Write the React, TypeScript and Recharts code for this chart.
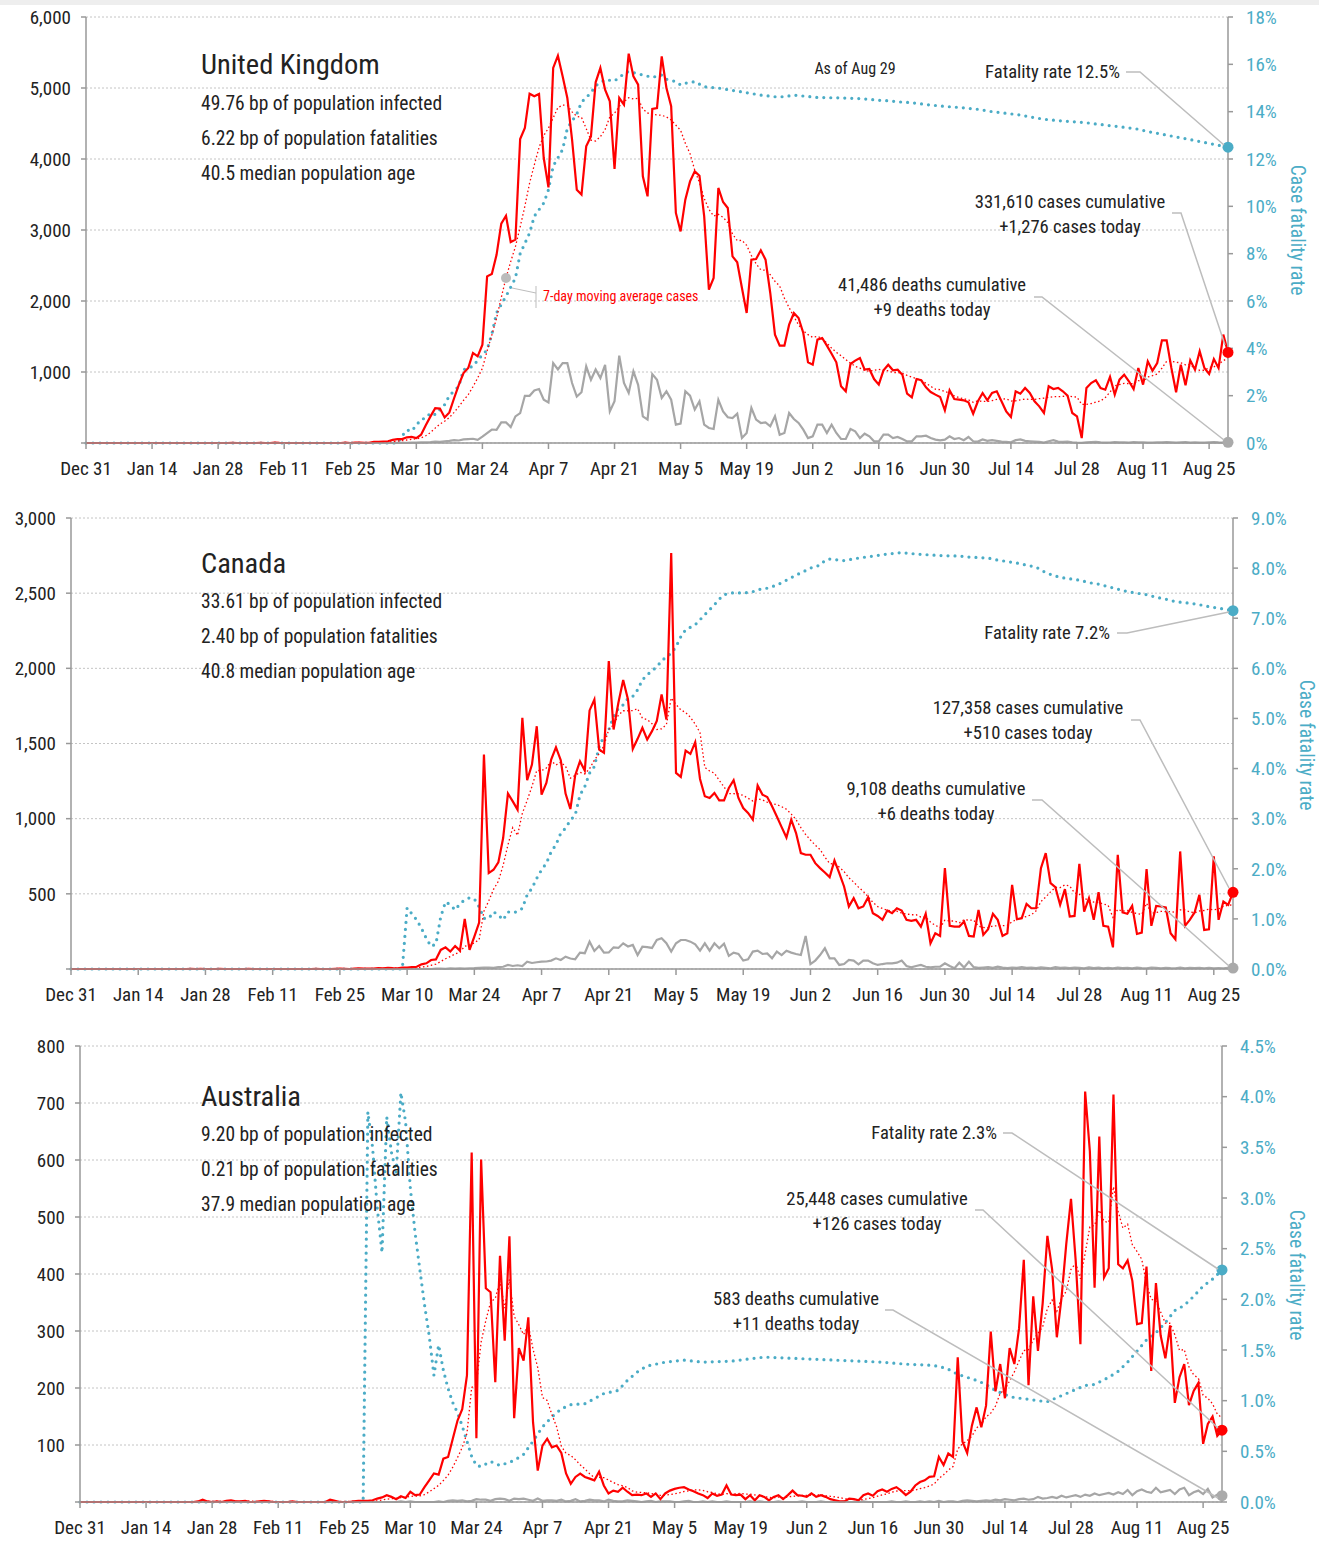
import React from "react";
import {
  ComposedChart,
  Line,
  XAxis,
  YAxis,
  CartesianGrid,
  ReferenceDot,
} from "recharts";

const FONT =
  '"Liberation Sans Narrow", "Arial Narrow", "Roboto Condensed", "DejaVu Sans Condensed", sans-serif';
const RED = "#ff0000";
const GRAY = "#a6a6a6";
const TEAL = "#4bacc6";
const W = 1319;

// x axis: day 0 = Dec 31, day 242 = Aug 29
const TICK_DAYS = [0, 14, 28, 42, 56, 70, 84, 98, 112, 126, 140, 154, 168, 182, 196, 210, 224, 238];
const TICK_LABELS = [
  "Dec 31", "Jan 14", "Jan 28", "Feb 11", "Feb 25", "Mar 10", "Mar 24", "Apr 7", "Apr 21",
  "May 5", "May 19", "Jun 2", "Jun 16", "Jun 30", "Jul 14", "Jul 28", "Aug 11", "Aug 25",
];

// ---------- United Kingdom ----------
const UK_CASES = [
  0, 0, 0, 0, 0, 0, 0, 0, 0, 0,
  0, 0, 0, 0, 0, 0, 0, 0, 0, 0,
  0, 0, 0, 0, 0, 0, 0, 0, 0, 0,
  0, 2, 0, 0, 0, 0, 0, 1, 0, 0,
  4, 1, 0, 0, 0, 0, 0, 0, 0, 0,
  0, 0, 0, 0, 0, 4, 0, 7, 5, 3,
  3, 15, 15, 20, 25, 45, 55, 55, 80, 85,
  70, 117, 250, 375, 490, 485, 360, 430, 630, 820,
  985, 1056, 1268, 1220, 1385, 2347, 2380, 2650, 3090, 3200,
  2830, 2864, 4280, 4437, 4920, 4883, 4915, 4014, 3600, 5282,
  5455, 5164, 4859, 4272, 3568, 3500, 4178, 4319, 5080, 5282,
  4977, 4812, 3859, 4859, 4765, 5484, 5164, 5047, 3756, 3474,
  4704, 4718, 5446, 5000, 4745, 3240, 2980, 3427, 3685, 3826,
  3765, 3192, 2160, 2324, 3592, 3394, 3310, 2629, 2545, 2183,
  1831, 2582, 2592, 2714, 2582, 2113, 1526, 1371, 1371, 1667,
  1831, 1760, 1549, 1136, 1103, 1455, 1479, 1371, 1258, 1136,
  798, 728, 1113, 1160, 1197, 1033, 1042, 901, 822, 1024,
  1103, 1024, 1033, 962, 695, 643, 901, 883, 784, 718,
  681, 648, 460, 742, 620, 610, 601, 573, 413, 587,
  704, 601, 704, 728, 587, 446, 366, 728, 695, 775,
  704, 587, 516, 423, 798, 760, 775, 728, 667, 423,
  376, 70, 775, 845, 883, 775, 751, 930, 681, 892,
  962, 869, 760, 1056, 822, 1150, 1019, 1127, 1446, 1446,
  1056, 714, 1103, 812, 1164, 1033, 1291, 1056, 972, 1183,
  1056, 1526, 1276,
];
const UK_DEATHS = [
  0, 0, 0, 0, 0, 0, 0, 0, 0, 0,
  0, 0, 0, 0, 0, 0, 0, 0, 0, 0,
  0, 0, 0, 0, 0, 0, 0, 0, 0, 0,
  0, 0, 0, 0, 0, 0, 0, 0, 0, 0,
  0, 0, 0, 0, 0, 0, 0, 0, 0, 0,
  0, 0, 0, 0, 0, 0, 0, 0, 0, 0,
  0, 0, 0, 0, 0, 1, 1, 2, 3, 5,
  5, 8, 10, 14, 20, 16, 25, 30, 40, 35,
  50, 55, 60, 45, 90, 140, 190, 185, 290, 290,
  225, 375, 420, 665, 665, 740, 760, 610, 570, 1125,
  1035, 1125, 1125, 845, 655, 715, 1080, 890, 1035, 915,
  1100, 445, 590, 1230, 845, 705, 1010, 820, 375, 330,
  970, 890, 634, 728, 610, 258, 272, 728, 667, 470,
  587, 258, 211, 197, 610, 446, 362, 352, 413, 70,
  141, 493, 329, 282, 291, 235, 376, 117, 141, 423,
  338, 282, 188, 70, 94, 258, 258, 141, 258, 141,
  56, 56, 197, 164, 70, 131, 94, 23, 23, 117,
  117, 70, 85, 56, 23, 23, 94, 94, 103, 70,
  47, 38, 47, 94, 56, 70, 40, 85, 25, 20,
  50, 30, 40, 30, 20, 15, 10, 40, 50, 30,
  25, 20, 15, 5, 25, 40, 20, 15, 20, 10,
  5, 3, 10, 12, 15, 8, 5, 7, 12, 10,
  8, 5, 12, 10, 8, 5, 6, 10, 8, 12,
  10, 5, 8, 12, 6, 8, 5, 6, 10, 12,
  8, 6, 9,
];
const UK_CFR_DAYS = [
  0, 66, 67, 68, 69, 71, 72, 73, 74, 76, 77, 79, 80, 82, 83, 85, 86, 87, 89, 91,
  92, 94, 95, 97, 98, 99, 101, 102, 104, 105, 107, 108, 110, 112, 114, 115, 117, 120, 122, 123,
  125, 126, 127, 129, 131, 134, 137, 140, 143, 146, 148, 150, 155, 160, 164, 166, 168, 170, 173, 175,
  178, 182, 185, 189, 192, 195, 198, 200, 203, 206, 209, 212, 214, 217, 220, 223, 225, 228, 231, 234,
  237, 240, 242,
];
const UK_CFR = [
  0, 0, 0.3, 0.55, 0.5, 1.0, 1.05, 1.27, 1.2, 1.62, 2.0, 2.4, 3.1, 3.24, 3.5, 3.94, 4.6, 5.5, 6.2, 6.97,
  8.0, 8.87, 9.58, 10.14, 10.7, 11.7, 12.4, 13.3, 13.9, 14.4, 14.8, 15.1, 15.35, 15.3, 15.6, 15.7, 15.6, 15.45, 15.55, 15.37,
  15.27, 15.13, 15.2, 15.27, 15.05, 15.0, 14.9, 14.8, 14.7, 14.63, 14.63, 14.7, 14.6, 14.58, 14.55, 14.52, 14.48, 14.46, 14.4, 14.38,
  14.3, 14.22, 14.18, 14.1, 14.0, 13.93, 13.86, 13.78, 13.68, 13.62, 13.58, 13.53, 13.48, 13.41, 13.34, 13.26, 13.16, 13.05, 12.93, 12.82,
  12.7, 12.58, 12.5,
];

// ---------- Canada ----------
const CA_CASES = [
  0, 0, 0, 0, 0, 0, 0, 0, 0, 0,
  0, 0, 0, 0, 0, 0, 0, 0, 0, 0,
  0, 0, 0, 0, 0, 1, 0, 1, 0, 0,
  0, 1, 0, 0, 0, 0, 0, 1, 0, 0,
  0, 0, 0, 0, 0, 0, 0, 0, 0, 0,
  0, 1, 0, 0, 0, 1, 2, 1, 0, 3,
  4, 2, 3, 3, 6, 5, 8, 6, 5, 9,
  9, 12, 15, 31, 38, 60, 64, 127, 144, 116,
  153, 122, 333, 127, 216, 309, 1427, 638, 660, 709,
  871, 1167, 1115, 1060, 1671, 1256, 1360, 1615, 1160, 1238,
  1393, 1475, 1389, 1167, 1064, 1287, 1382, 1320, 1720, 1793,
  1460, 1438, 2049, 1593, 1771, 1922, 1793, 1464, 1531, 1604,
  1527, 1582, 1650, 1827, 1660, 2767, 1304, 1278, 1453, 1431,
  1509, 1264, 1149, 1138, 1171, 1122, 1122, 1204, 1256, 1138,
  1071, 1038, 993, 1220, 1160, 1144, 1082, 1015, 944, 875,
  993, 904, 771, 760, 760, 704, 671, 642, 611, 722,
  638, 549, 416, 471, 404, 416, 476, 371, 353, 327,
  389, 371, 404, 389, 327, 320, 327, 282, 367, 171,
  238, 220, 671, 287, 282, 282, 316, 220, 216, 393,
  227, 264, 367, 327, 220, 238, 560, 331, 338, 433,
  404, 404, 671, 771, 571, 544, 427, 531, 349, 353,
  700, 382, 471, 327, 511, 287, 282, 144, 760, 376,
  367, 420, 233, 242, 664, 287, 420, 416, 409, 238,
  198, 782, 287, 327, 376, 493, 260, 264, 749, 327,
  449, 427, 510,
];
const CA_DEATHS = [
  0, 0, 0, 0, 0, 0, 0, 0, 0, 0,
  0, 0, 0, 0, 0, 0, 0, 0, 0, 0,
  0, 0, 0, 0, 0, 0, 0, 0, 0, 0,
  0, 0, 0, 0, 0, 0, 0, 0, 0, 0,
  0, 0, 0, 0, 0, 0, 0, 0, 0, 0,
  0, 0, 0, 0, 0, 0, 0, 0, 0, 0,
  0, 0, 0, 0, 0, 0, 0, 0, 0, 1,
  0, 0, 0, 0, 1, 0, 2, 3, 1, 4,
  2, 4, 3, 5, 6, 8, 9, 10, 8, 12,
  15, 27, 20, 25, 20, 49, 40, 45, 49, 50,
  56, 71, 60, 82, 70, 65, 109, 105, 182, 120,
  153, 109, 110, 144, 140, 171, 150, 160, 93, 149,
  145, 140, 193, 204, 171, 116, 171, 193, 193, 182,
  164, 122, 171, 122, 171, 138, 169, 87, 109, 100,
  56, 64, 116, 122, 100, 104, 71, 116, 93, 122,
  109, 100, 93, 220, 33, 56, 93, 138, 71, 71,
  27, 33, 60, 56, 31, 56, 56, 38, 27, 33,
  38, 38, 42, 56, 20, 11, 20, 27, 15, 11,
  15, 15, 38, 20, 5, 42, 10, 49, 12, 8,
  10, 12, 8, 15, 9, 6, 10, 8, 12, 7,
  9, 6, 11, 8, 5, 12, 7, 9, 6, 10,
  8, 5, 11, 6, 9, 4, 7, 5, 10, 6,
  8, 4, 9, 6, 5, 10, 7, 4, 8, 6,
  5, 9, 4, 7, 6, 8, 5, 7, 4, 6,
  5, 7, 6,
];
const CA_CFR_DAYS = [
  0, 69, 70, 71, 72, 73, 74, 75, 76, 77, 78, 79, 80, 81, 82, 83, 84, 85, 86, 87,
  88, 89, 90, 91, 92, 93, 94, 95, 96, 97, 98, 99, 100, 101, 102, 103, 104, 105, 106, 107,
  108, 109, 110, 111, 112, 113, 114, 115, 116, 117, 118, 119, 120, 121, 122, 123, 124, 125, 126, 127,
  128, 130, 131, 132, 133, 134, 135, 136, 137, 138, 140, 142, 143, 145, 147, 149, 151, 153, 154, 156,
  157, 158, 161, 164, 167, 170, 172, 173, 176, 181, 185, 187, 191, 193, 195, 197, 199, 201, 203, 205,
  207, 210, 212, 214, 216, 218, 220, 222, 224, 226, 228, 230, 233, 235, 237, 239, 242,
];
const CA_CFR = [
  0, 0, 1.22, 1.1, 0.98, 0.81, 0.61, 0.45, 0.5, 1.04, 1.34, 1.28, 1.18, 1.3, 1.38, 1.42, 1.4, 1.24, 1.01, 1.01,
  1.14, 1.08, 0.98, 1.14, 1.12, 1.15, 1.21, 1.48, 1.61, 1.81, 1.98, 2.11, 2.34, 2.48, 2.71, 2.81, 2.97, 3.07, 3.47, 3.64,
  3.91, 4.04, 4.44, 4.64, 4.77, 5.04, 5.2, 5.27, 5.4, 5.44, 5.57, 5.77, 5.87, 5.95, 6.03, 6.15, 6.23, 6.3, 6.43, 6.63,
  6.77, 6.87, 6.97, 7.07, 7.17, 7.27, 7.38, 7.47, 7.49, 7.51, 7.5, 7.53, 7.57, 7.6, 7.66, 7.76, 7.86, 7.95, 8.0, 8.06,
  8.15, 8.18, 8.15, 8.2, 8.24, 8.28, 8.3, 8.31, 8.28, 8.25, 8.24, 8.22, 8.2, 8.16, 8.13, 8.1, 8.06, 8.02, 7.91, 7.84,
  7.8, 7.76, 7.71, 7.68, 7.63, 7.58, 7.53, 7.5, 7.47, 7.42, 7.38, 7.33, 7.3, 7.27, 7.23, 7.2, 7.15,
];

// ---------- Australia ----------
const AU_CASES = [
  0, 0, 0, 0, 0, 0, 0, 0, 0, 0,
  0, 0, 0, 0, 0, 0, 0, 0, 0, 0,
  0, 0, 0, 0, 0, 1, 4, 1, 0, 1,
  0, 2, 3, 1, 1, 2, 0, 0, 1, 2,
  1, 0, 0, 0, 0, 1, 0, 0, 0, 0,
  0, 0, 0, 4, 2, 0, 0, 0, 1, 2,
  2, 2, 3, 6, 8, 12, 9, 5, 10, 7,
  18, 12, 13, 26, 38, 50, 48, 76, 79, 111,
  143, 163, 222, 613, 112, 601, 375, 368, 210, 432,
  283, 466, 147, 270, 248, 324, 140, 55, 99, 111,
  96, 99, 86, 50, 32, 44, 50, 44, 41, 38,
  53, 29, 15, 20, 18, 25, 18, 12, 13, 12,
  15, 9, 15, 5, 15, 20, 23, 25, 26, 22,
  19, 15, 12, 7, 15, 11, 13, 29, 13, 12,
  13, 5, 12, 3, 12, 9, 3, 9, 12, 5,
  12, 20, 12, 11, 9, 15, 9, 12, 9, 5,
  3, 1, 1, 6, 5, 3, 12, 15, 11, 19,
  22, 18, 23, 26, 20, 12, 18, 29, 35, 38,
  44, 45, 79, 65, 85, 79, 254, 106, 86, 134,
  166, 131, 169, 299, 194, 242, 182, 270, 242, 305,
  425, 205, 361, 265, 349, 467, 408, 289, 359, 453,
  532, 423, 277, 720, 615, 376, 641, 394, 410, 715,
  417, 410, 424, 388, 312, 314, 413, 230, 384, 292,
  252, 310, 174, 219, 242, 170, 195, 209, 102, 137,
  150, 116, 126,
];
const AU_DEATHS = [
  0, 0, 0, 0, 0, 0, 0, 0, 0, 0,
  0, 0, 0, 0, 0, 0, 0, 0, 0, 0,
  0, 0, 0, 0, 0, 0, 0, 0, 0, 0,
  0, 0, 0, 0, 0, 0, 0, 0, 0, 0,
  0, 0, 0, 0, 0, 0, 0, 0, 0, 0,
  0, 0, 0, 0, 0, 0, 0, 0, 0, 0,
  0, 1, 0, 0, 0, 0, 0, 0, 1, 0,
  1, 0, 0, 0, 0, 0, 1, 0, 2, 3,
  2, 3, 1, 2, 5, 4, 4, 2, 5, 6,
  5, 2, 6, 5, 6, 4, 2, 6, 2, 3,
  3, 2, 4, 1, 2, 5, 1, 2, 4, 3,
  3, 1, 4, 2, 1, 1, 3, 2, 1, 0,
  1, 2, 0, 1, 1, 1, 0, 0, 1, 2,
  0, 0, 1, 0, 1, 0, 0, 1, 0, 0,
  0, 0, 1, 0, 1, 0, 0, 0, 1, 0,
  0, 0, 0, 1, 0, 0, 0, 1, 0, 0,
  0, 0, 1, 0, 0, 0, 1, 0, 0, 0,
  0, 0, 1, 0, 0, 1, 0, 0, 1, 0,
  1, 0, 2, 0, 1, 1, 0, 2, 3, 2,
  1, 2, 3, 2, 4, 3, 5, 4, 3, 5,
  6, 4, 5, 9, 6, 7, 9, 7, 11, 8,
  10, 12, 9, 13, 11, 15, 12, 14, 16, 13,
  17, 14, 21, 12, 19, 22, 18, 16, 25, 17,
  19, 21, 14, 22, 25, 12, 17, 20, 14, 23,
  8, 13, 11,
];
const AU_CFR_DAYS = [
  0, 60, 61, 62, 63, 64, 65, 66, 67, 68, 69, 70, 71, 72, 73, 74, 75, 76, 77, 78,
  79, 80, 81, 82, 83, 84, 85, 87, 89, 92, 94, 96, 98, 100, 102, 104, 107, 109, 111, 114,
  116, 118, 120, 122, 124, 126, 128, 132, 138, 145, 150, 155, 160, 165, 170, 175, 180, 182, 184, 186,
  188, 190, 192, 194, 196, 198, 200, 203, 205, 207, 209, 211, 213, 215, 218, 220, 222, 224, 226, 228,
  230, 232, 234, 236, 238, 240, 242,
];
const AU_CFR = [
  0, 0, 3.85, 3.5, 2.9, 2.46, 3.8, 3.45, 3.25, 4.04, 3.75, 3.1, 2.66, 2.3, 1.95, 1.64, 1.25, 1.55, 1.3, 1.12,
  0.98, 0.88, 0.75, 0.6, 0.45, 0.36, 0.35, 0.4, 0.36, 0.41, 0.47, 0.6, 0.74, 0.84, 0.92, 0.96, 0.97, 1.02, 1.07, 1.1,
  1.2, 1.28, 1.34, 1.36, 1.38, 1.39, 1.4, 1.38, 1.39, 1.43, 1.42, 1.41, 1.4, 1.39, 1.38, 1.36, 1.35, 1.34, 1.31, 1.26,
  1.23, 1.2, 1.16, 1.1, 1.06, 1.03, 1.02, 1.0, 0.99, 1.03, 1.07, 1.11, 1.15, 1.16, 1.23, 1.29, 1.38, 1.49, 1.6, 1.67,
  1.77, 1.89, 1.94, 2.03, 2.13, 2.2, 2.29,
];

function buildRows(cases: number[], deaths: number[], cfrDays: number[], cfr: number[]) {
  const cfrMap: Record<number, number> = {};
  cfrDays.forEach((d, i) => (cfrMap[d] = cfr[i]));
  return cases.map((c, day) => {
    // 7-day trailing moving average of cases
    const from = Math.max(0, day - 6);
    const win = cases.slice(from, day + 1);
    const ma = win.reduce((a, b) => a + b, 0) / win.length;
    return {
      day,
      cases: c,
      deaths: deaths[day],
      ma,
      cfr: cfrMap[day] !== undefined ? cfrMap[day] : null,
    };
  });
}

interface PanelProps {
  top: number;
  height: number;
  marginTop: number;
  plotLeft: number;
  plotRight: number;
  yMax: number;
  yTicks: number[];
  rMax: number;
  rTicks: number[];
  rFormat: (v: number) => string;
  cases: number[];
  deaths: number[];
  cfrDays: number[];
  cfr: number[];
  maDotDay?: number;
}

function Panel(p: PanelProps) {
  const rows = buildRows(p.cases, p.deaths, p.cfrDays, p.cfr);
  const last = rows[rows.length - 1];
  const tickStyle = { fill: "#222", fontSize: 19, fontFamily: FONT };
  return (
    <div style={{ position: "absolute", left: 0, top: p.top }}>
      <ComposedChart
        width={W}
        height={p.height}
        data={rows}
        margin={{ top: p.marginTop, right: 0, bottom: 0, left: 0 }}
      >
        <CartesianGrid yAxisId="l" vertical={false} stroke="#c4c4c4" strokeDasharray="2 2" />
        <XAxis
          type="number"
          dataKey="day"
          domain={[0, 242]}
          ticks={TICK_DAYS}
          interval={0}
          tickFormatter={(v: number) => TICK_LABELS[Math.round(v / 14)]}
          stroke="#999"
          strokeWidth={1.5}
          tickSize={6}
          tickMargin={13}
          height={40}
          tick={tickStyle}
        />
        <YAxis
          yAxisId="l"
          width={p.plotLeft}
          domain={[0, p.yMax]}
          ticks={p.yTicks}
          interval={0}
          tickFormatter={(v: number) => (v === 0 ? "" : v.toLocaleString("en-US"))}
          stroke="#999"
          strokeWidth={1.5}
          tickSize={5}
          tickMargin={10}
          tick={tickStyle}
        />
        <YAxis
          yAxisId="r"
          orientation="right"
          width={W - p.plotRight}
          domain={[0, p.rMax]}
          ticks={p.rTicks}
          interval={0}
          tickFormatter={p.rFormat}
          stroke="#999"
          strokeWidth={1.5}
          tickSize={5}
          tickMargin={13}
          tick={{ ...tickStyle, fill: TEAL }}
        />
        <Line
          yAxisId="r"
          dataKey="cfr"
          connectNulls
          stroke={TEAL}
          strokeWidth={3.2}
          strokeDasharray="0 7"
          strokeLinecap="round"
          dot={false}
          activeDot={false}
          isAnimationActive={false}
        />
        <Line
          yAxisId="l"
          dataKey="deaths"
          stroke={GRAY}
          strokeWidth={2.2}
          dot={false}
          activeDot={false}
          isAnimationActive={false}
        />
        <Line
          yAxisId="l"
          dataKey="ma"
          stroke={RED}
          strokeWidth={1.3}
          strokeDasharray="1.5 2.5"
          dot={false}
          activeDot={false}
          isAnimationActive={false}
        />
        <Line
          yAxisId="l"
          dataKey="cases"
          stroke={RED}
          strokeWidth={2.2}
          dot={false}
          activeDot={false}
          isAnimationActive={false}
        />
        <ReferenceDot yAxisId="r" x={last.day} y={last.cfr as number} r={5.5} fill={TEAL} stroke="none" ifOverflow="visible" />
        <ReferenceDot yAxisId="l" x={last.day} y={last.deaths} r={5.5} fill="#aaa" stroke="none" ifOverflow="visible" />
        <ReferenceDot yAxisId="l" x={last.day} y={last.cases} r={5.5} fill={RED} stroke="none" ifOverflow="visible" />
        {p.maDotDay !== undefined && (
          <ReferenceDot yAxisId="l" x={p.maDotDay} y={rows[p.maDotDay].ma} r={5} fill="#bbb" stroke="none" />
        )}
      </ComposedChart>
    </div>
  );
}

const txt = { fontFamily: FONT, fill: "#222" } as const;

function Overlay() {
  const lead = { fill: "none", stroke: "#bdbdbd", strokeWidth: 1.5 };
  const stat = { ...txt, fontSize: 19.5 };
  const title = { ...txt, fontSize: 28.5 };
  const note = { ...txt, fontSize: 18.6 };
  const axisTitle = { fontFamily: FONT, fill: TEAL, fontSize: 19.5 };
  return (
    <svg
      width={W}
      height={1542}
      style={{ position: "absolute", left: 0, top: 0, pointerEvents: "none" }}
    >
      {/* United Kingdom */}
      <text x={201} y={74} {...title}>United Kingdom</text>
      <text x={201} y={110} {...stat}>49.76 bp of population infected</text>
      <text x={201} y={145} {...stat}>6.22 bp of population fatalities</text>
      <text x={201} y={180} {...stat}>40.5 median population age</text>
      <text x={855} y={74} {...txt} fontSize={16} textAnchor="middle">As of Aug 29</text>
      <text x={1120} y={78} {...note} textAnchor="end">Fatality rate 12.5%</text>
      <polyline points="1126,72 1140,72 1224,145" {...lead} />
      <text x={1070} y={208} {...note} textAnchor="middle">331,610 cases cumulative</text>
      <text x={1070} y={233} {...note} textAnchor="middle">+1,276 cases today</text>
      <polyline points="1172,213 1181,213 1225,345" {...lead} />
      <text x={932} y={291} {...note} textAnchor="middle">41,486 deaths cumulative</text>
      <text x={932} y={316} {...note} textAnchor="middle">+9 deaths today</text>
      <polyline points="1034,297 1042,297 1224,440" {...lead} />
      <polyline points="512,288 536,293" {...lead} strokeWidth={1} />
      <line x1={536} y1={286} x2={536} y2={308} stroke="#bdbdbd" strokeWidth={1} />
      <text x={543} y={301} fontFamily={FONT} fontSize={14} fill={RED}>7-day moving average cases</text>
      <text transform="translate(1291,230) rotate(90)" textAnchor="middle" {...axisTitle}>Case fatality rate</text>

      {/* Canada */}
      <text x={201} y={573} {...title}>Canada</text>
      <text x={201} y={608} {...stat}>33.61 bp of population infected</text>
      <text x={201} y={643} {...stat}>2.40 bp of population fatalities</text>
      <text x={201} y={678} {...stat}>40.8 median population age</text>
      <text x={1110} y={639} {...note} textAnchor="end">Fatality rate 7.2%</text>
      <polyline points="1117,633 1127,633 1229,612" {...lead} />
      <text x={1028} y={714} {...note} textAnchor="middle">127,358 cases cumulative</text>
      <text x={1028} y={739} {...note} textAnchor="middle">+510 cases today</text>
      <polyline points="1131,720 1140,720 1229,888" {...lead} />
      <text x={936} y={795} {...note} textAnchor="middle">9,108 deaths cumulative</text>
      <text x={936} y={820} {...note} textAnchor="middle">+6 deaths today</text>
      <polyline points="1032,800 1042,800 1229,966" {...lead} />
      <text transform="translate(1300,745) rotate(90)" textAnchor="middle" {...axisTitle}>Case fatality rate</text>

      {/* Australia */}
      <text x={201} y={1106} {...title}>Australia</text>
      <text x={201} y={1141} {...stat}>9.20 bp of population infected</text>
      <text x={201} y={1176} {...stat}>0.21 bp of population fatalities</text>
      <text x={201} y={1211} {...stat}>37.9 median population age</text>
      <text x={997} y={1139} {...note} textAnchor="end">Fatality rate 2.3%</text>
      <polyline points="1003,1133 1012,1133 1218,1269" {...lead} />
      <text x={877} y={1205} {...note} textAnchor="middle">25,448 cases cumulative</text>
      <text x={877} y={1230} {...note} textAnchor="middle">+126 cases today</text>
      <polyline points="975,1210 983,1210 1218,1428" {...lead} />
      <text x={796} y={1305} {...note} textAnchor="middle">583 deaths cumulative</text>
      <text x={796} y={1330} {...note} textAnchor="middle">+11 deaths today</text>
      <polyline points="885,1310 893,1310 1218,1498" {...lead} />
      <text transform="translate(1290,1275) rotate(90)" textAnchor="middle" {...axisTitle}>Case fatality rate</text>
    </svg>
  );
}

export default function App() {
  return (
    <div style={{ position: "absolute", left: 0, top: 0, width: W, height: 1542, background: "#fff" }}>
      <div style={{ position: "absolute", left: 0, top: 0, width: W, height: 5, background: "#eeeeee" }} />
      <Panel
        top={0}
        height={483}
        marginTop={17}
        plotLeft={86}
        plotRight={1228}
        yMax={6000}
        yTicks={[0, 1000, 2000, 3000, 4000, 5000, 6000]}
        rMax={18}
        rTicks={[0, 2, 4, 6, 8, 10, 12, 14, 16, 18]}
        rFormat={(v) => `${v}%`}
        cases={UK_CASES}
        deaths={UK_DEATHS}
        cfrDays={UK_CFR_DAYS}
        cfr={UK_CFR}
        maDotDay={89}
      />
      <Panel
        top={490}
        height={519}
        marginTop={28}
        plotLeft={71}
        plotRight={1233}
        yMax={3000}
        yTicks={[0, 500, 1000, 1500, 2000, 2500, 3000]}
        rMax={9}
        rTicks={[0, 1, 2, 3, 4, 5, 6, 7, 8, 9]}
        rFormat={(v) => `${v.toFixed(1)}%`}
        cases={CA_CASES}
        deaths={CA_DEATHS}
        cfrDays={CA_CFR_DAYS}
        cfr={CA_CFR}
      />
      <Panel
        top={1010}
        height={532}
        marginTop={36}
        plotLeft={80}
        plotRight={1222}
        yMax={800}
        yTicks={[0, 100, 200, 300, 400, 500, 600, 700, 800]}
        rMax={4.5}
        rTicks={[0, 0.5, 1, 1.5, 2, 2.5, 3, 3.5, 4, 4.5]}
        rFormat={(v) => `${v.toFixed(1)}%`}
        cases={AU_CASES}
        deaths={AU_DEATHS}
        cfrDays={AU_CFR_DAYS}
        cfr={AU_CFR}
      />
      <Overlay />
    </div>
  );
}
